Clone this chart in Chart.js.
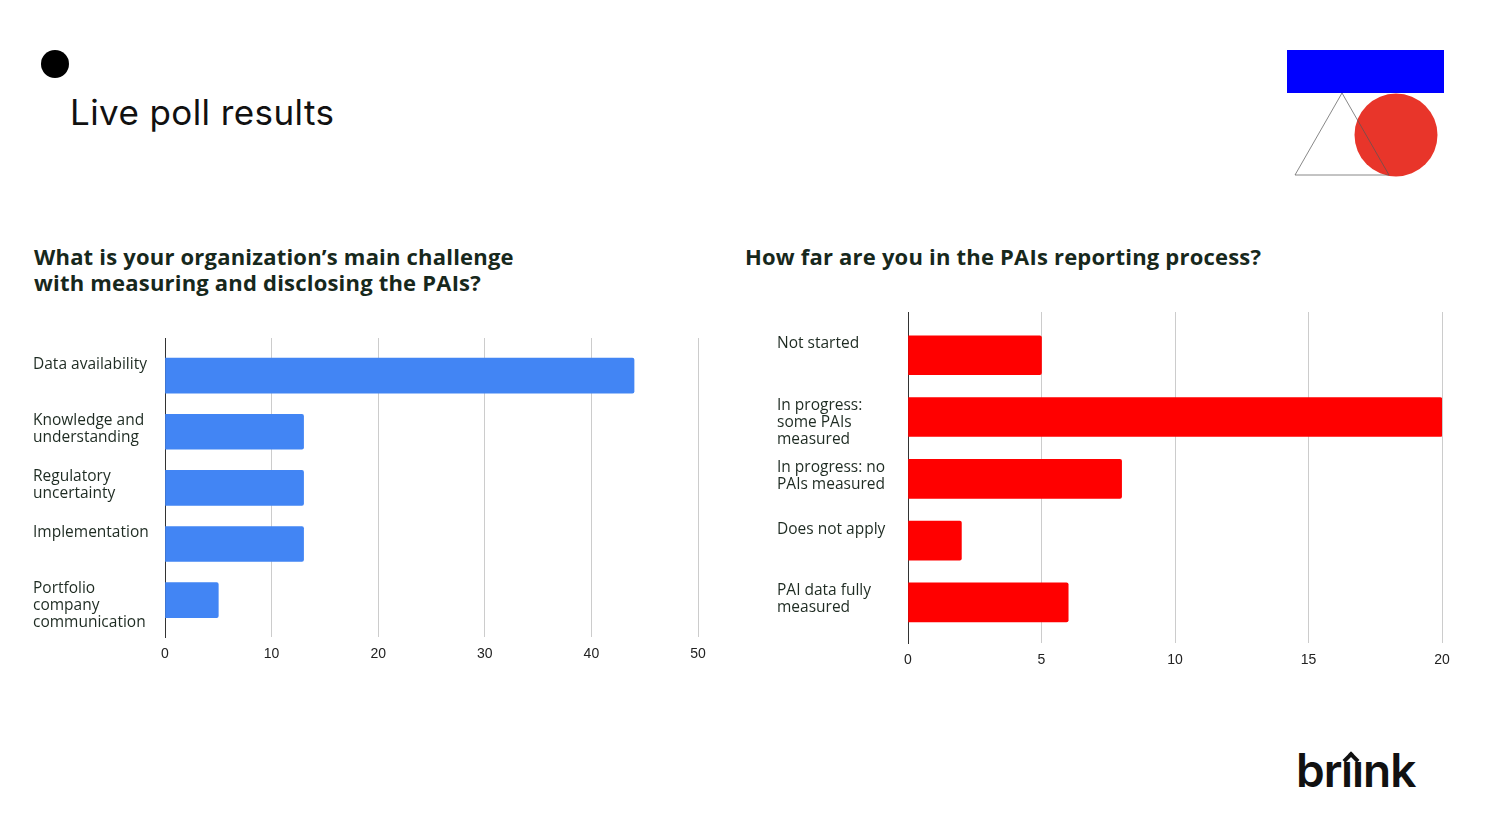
<!DOCTYPE html>
<html>
<head>
<meta charset="utf-8">
<script src="https://cdn.jsdelivr.net/npm/chart.js@4.4.0/dist/chart.umd.min.js"></script>
<style>
  body { margin: 0; width: 1488px; height: 837px; background: #fff; position: relative; overflow: hidden; font-family: 'Open Sans', sans-serif; }
  .dot { position: absolute; left: 41px; top: 50px; width: 28px; height: 28px; border-radius: 50%; background: #000; }
  .title { position: absolute; left: 70px; top: 91px; font-family: Inter, sans-serif; font-size: 35px; color: #111; letter-spacing: 0.4px; }
  .q { position: absolute; font-family: 'Open Sans', sans-serif; font-weight: 700; font-size: 22px; line-height: 26px; color: #17281c; letter-spacing: 0.2px; }
  .logo { position: absolute; left: 1287px; top: 50px; }
  .brand { position: absolute; left: 1296px; top: 742px; font-family: Inter, sans-serif; font-weight: 600; font-size: 46px; color: #111; letter-spacing: -1px; }
  .brand .ii { position: relative; }
  .brand .ii::before { content: ''; position: absolute; left: 4px; top: 12px; width: 8px; height: 8px; border-left: 4px solid #111; border-top: 4px solid #111; transform: rotate(45deg); }
  .box { position: absolute; }
</style>
</head>
<body>
<div class="dot"></div>
<div class="title">Live poll results</div>
<svg class="logo" width="160" height="130" viewBox="0 0 160 130">
  <rect x="0" y="0" width="157" height="43" fill="#0000ff"/>
  <circle cx="109" cy="85" r="41.5" fill="#e8352a"/>
  <polygon points="55,43 8,125 102,125" fill="none" stroke="#555" stroke-opacity="0.7" stroke-width="1"/>
</svg>
<div class="q" style="left:34px; top:243px;">What is your organization’s main challenge<br>with measuring and disclosing the PAIs?</div>
<div class="q" style="left:745px; top:243px;">How far are you in the PAIs reporting process?</div>
<div class="box" style="left:33px; top:330px; width:675px; height:350px;"><canvas id="left"></canvas></div>
<div class="box" style="left:777px; top:304px; width:675px; height:382px;"><canvas id="right"></canvas></div>
<div class="brand">br<span class="ii">ıı</span>nk</div>
<script>
const challengeLabels = [
  'Data availability',
  ['Knowledge and', 'understanding'],
  ['Regulatory', 'uncertainty'],
  'Implementation',
  ['Portfolio', 'company', 'communication']
];
const challengeValues = [44, 13, 13, 13, 5];
const challengeTicks = [0, 10, 20, 30, 40, 50];

const progressLabels = [
  'Not started',
  ['In progress:', 'some PAIs', 'measured'],
  ['In progress: no', 'PAIs measured'],
  'Does not apply',
  ['PAI data fully', 'measured']
];
const progressValues = [5, 20, 8, 2, 6];
const progressTicks = [0, 5, 10, 15, 20];

// labels sit at the top of their bar, so pad every label to three lines
function topAligned(label) {
  const lines = [].concat(label);
  while (lines.length < 3) lines.push('');
  return lines;
}

function makeChart(id, labels, values, ticks, color, thickness, yMin, yMax, axisWidth) {
  new Chart(document.getElementById(id), {
    type: 'bar',
    data: {
      datasets: [{
        data: values.map((v, i) => ({ x: v, y: i })),
        backgroundColor: color,
        borderRadius: 2,
        borderSkipped: 'start',
        barThickness: thickness
      }]
    },
    options: {
      indexAxis: 'y',
      responsive: true,
      maintainAspectRatio: false,
      animation: false,
      layout: { padding: { top: 8, right: 10, bottom: 8, left: 0 } },
      plugins: { legend: { display: false }, tooltip: { enabled: false } },
      scales: {
        x: {
          type: 'linear',
          min: ticks[0],
          max: ticks[ticks.length - 1],
          afterBuildTicks: s => { s.ticks = ticks.map(v => ({ value: v })); },
          afterFit: s => { s.paddingLeft = 0; s.paddingRight = 0; },
          grid: { color: '#cccccc', drawTicks: false },
          border: { display: false },
          ticks: { padding: 9, color: '#222', font: { family: 'Liberation Sans, Arial', size: 14 } }
        },
        y: {
          type: 'linear',
          reverse: true,
          offset: false,
          min: yMin,
          max: yMax,
          afterBuildTicks: s => { s.ticks = labels.map((_, i) => ({ value: i })); },
          afterFit: s => { s.width = axisWidth; s.paddingTop = 0; s.paddingBottom = 0; },
          grid: { display: false },
          border: { display: true, color: '#333', width: 1 },
          ticks: {
            crossAlign: 'far',
            labelOffset: 5.5,
            color: '#1e2b22',
            font: { family: 'Open Sans', size: 15.5, lineHeight: 17 / 15.5 },
            callback: v => topAligned(labels[v])
          }
        }
      }
    }
  });
}

makeChart('left', challengeLabels, challengeValues, challengeTicks, '#4285f4', 35, -0.67, 4.66, 132);
makeChart('right', progressLabels, progressValues, progressTicks, '#ff0000', 39, -0.7, 4.66, 131);
</script>
</body>
</html>
